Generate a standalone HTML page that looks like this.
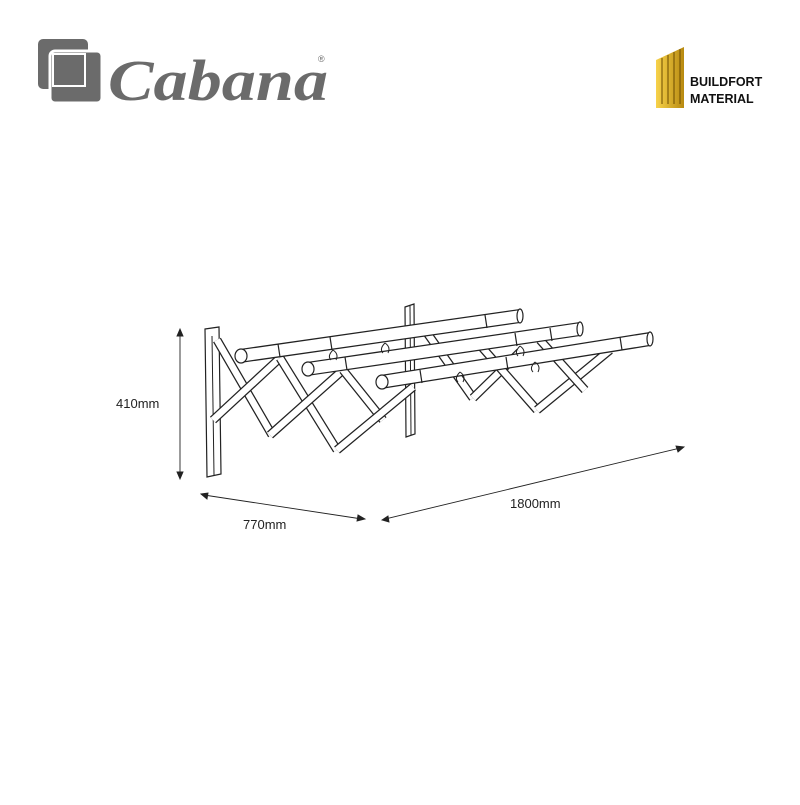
<!DOCTYPE html>
<html><head><style>
html,body{margin:0;padding:0;background:#fff;}
body{width:800px;height:800px;overflow:hidden;}
</style></head><body>
<svg width="800" height="800" viewBox="0 0 800 800" xmlns="http://www.w3.org/2000/svg">
<defs>
<linearGradient id="g" x1="0" y1="0" x2="1" y2="0">
<stop offset="0" stop-color="#f7d24a"/><stop offset="1" stop-color="#b88a10"/>
</linearGradient>
</defs>
<!-- Cabana logo -->
<rect x="38" y="39" width="50" height="50" rx="5" fill="#6b6b6b"/>
<rect x="50" y="51" width="52" height="52" rx="5" fill="#6b6b6b" stroke="#fff" stroke-width="3"/>
<rect x="53" y="54" width="32" height="32" fill="#6b6b6b" stroke="#fff" stroke-width="2"/>
<text x="108" y="100" font-family="Liberation Serif, serif" font-style="italic" font-weight="bold" font-size="58" fill="#6b6b6b" textLength="220" lengthAdjust="spacingAndGlyphs">Cabana</text>
<text x="318" y="62" font-family="Liberation Sans, sans-serif" font-size="9" fill="#6b6b6b">®</text>
<!-- Buildfort -->
<g>
<polygon points="656,60 684,47 684,108 656,108" fill="url(#g)"/>
<g stroke="#6a4a00" stroke-width="1">
<line x1="662" y1="58" x2="662" y2="104"/><line x1="668" y1="55" x2="668" y2="104"/>
<line x1="674" y1="52" x2="674" y2="104"/><line x1="680" y1="49" x2="680" y2="104"/>
</g>
</g>
<text x="690" y="86" font-family="Liberation Sans, sans-serif" font-weight="bold" font-size="12.5" fill="#111">BUILDFORT</text>
<text x="690" y="103" font-family="Liberation Sans, sans-serif" font-weight="bold" font-size="12.5" fill="#111">MATERIAL</text>

<!-- rack -->
<g stroke-linecap="butt" fill="none">
<polygon points="405,307 414,304 415,434 406,437" fill="#fff" stroke="#222" stroke-width="1.2"/>
<line x1="410" y1="306" x2="411" y2="435" stroke="#222" stroke-width="1"/>
<g>
<line x1="425" y1="330" x2="473" y2="398" stroke="#222" stroke-width="9"/><line x1="425" y1="330" x2="473" y2="398" stroke="#fff" stroke-width="6.5"/>
<line x1="473" y1="398" x2="520" y2="352" stroke="#222" stroke-width="9"/><line x1="473" y1="398" x2="520" y2="352" stroke="#fff" stroke-width="6.5"/>
<line x1="480" y1="345" x2="537" y2="410" stroke="#222" stroke-width="9"/><line x1="480" y1="345" x2="537" y2="410" stroke="#fff" stroke-width="6.5"/>
<line x1="537" y1="410" x2="610" y2="350" stroke="#222" stroke-width="9"/><line x1="537" y1="410" x2="610" y2="350" stroke="#fff" stroke-width="6.5"/>
<line x1="540" y1="340" x2="585" y2="390" stroke="#222" stroke-width="9"/><line x1="540" y1="340" x2="585" y2="390" stroke="#fff" stroke-width="6.5"/>
</g>
<polygon points="205,329 219,327 221,474 207,477" fill="#fff" stroke="#222" stroke-width="1.2"/>
<line x1="212" y1="336" x2="214" y2="475" stroke="#222" stroke-width="1"/>
<line x1="217" y1="340" x2="272" y2="435" stroke="#222" stroke-width="9"/><line x1="217" y1="340" x2="272" y2="435" stroke="#fff" stroke-width="6.5"/>
<line x1="213" y1="420" x2="280" y2="358" stroke="#222" stroke-width="9"/><line x1="213" y1="420" x2="280" y2="358" stroke="#fff" stroke-width="6.5"/>
<line x1="280" y1="358" x2="337" y2="450" stroke="#222" stroke-width="9"/><line x1="280" y1="358" x2="337" y2="450" stroke="#fff" stroke-width="6.5"/>
<line x1="270" y1="435" x2="343" y2="370" stroke="#222" stroke-width="9"/><line x1="270" y1="435" x2="343" y2="370" stroke="#fff" stroke-width="6.5"/>
<line x1="343" y1="370" x2="383" y2="420" stroke="#222" stroke-width="9"/><line x1="343" y1="370" x2="383" y2="420" stroke="#fff" stroke-width="6.5"/>
<line x1="337" y1="450" x2="413" y2="387" stroke="#222" stroke-width="9"/><line x1="337" y1="450" x2="413" y2="387" stroke="#fff" stroke-width="6.5"/>
<line x1="240" y1="356" x2="520" y2="316" stroke="#222" stroke-width="14"/><line x1="240" y1="356" x2="520" y2="316" stroke="#fff" stroke-width="11.5"/>
<ellipse cx="241" cy="356" rx="6" ry="7" fill="#fff" stroke="#222" stroke-width="1.2"/>
<ellipse cx="520" cy="316" rx="3" ry="7" fill="#fff" stroke="#222" stroke-width="1.2"/>
<line x1="307" y1="369" x2="580" y2="329" stroke="#222" stroke-width="14"/><line x1="307" y1="369" x2="580" y2="329" stroke="#fff" stroke-width="11.5"/>
<ellipse cx="308" cy="369" rx="6" ry="7" fill="#fff" stroke="#222" stroke-width="1.2"/>
<ellipse cx="580" cy="329" rx="3" ry="7" fill="#fff" stroke="#222" stroke-width="1.2"/>
<line x1="381" y1="382" x2="650" y2="339" stroke="#222" stroke-width="14"/><line x1="381" y1="382" x2="650" y2="339" stroke="#fff" stroke-width="11.5"/>
<ellipse cx="382" cy="382" rx="6" ry="7" fill="#fff" stroke="#222" stroke-width="1.2"/>
<ellipse cx="650" cy="339" rx="3" ry="7" fill="#fff" stroke="#222" stroke-width="1.2"/>
<g stroke="#222" stroke-width="1.2">
<line x1="278" y1="344" x2="280" y2="357"/><line x1="330" y1="337" x2="332" y2="350"/><line x1="485" y1="315" x2="487" y2="328"/>
<line x1="345" y1="357" x2="347" y2="370"/><line x1="515" y1="333" x2="517" y2="346"/><line x1="550" y1="328" x2="552" y2="341"/>
<line x1="420" y1="370" x2="422" y2="383"/><line x1="506" y1="357" x2="508" y2="370"/><line x1="620" y1="337" x2="622" y2="350"/>
</g>
<g stroke="#222" stroke-width="1">
<path d="M333,350 q-6,6 -2,10 M333,350 q6,4 3,10"/>
<path d="M385,343 q-6,6 -2,10 M385,343 q6,4 3,10"/>
<path d="M520,346 q-6,6 -2,10 M520,346 q6,4 3,10"/>
<path d="M535,362 q-6,6 -2,10 M535,362 q6,4 3,10"/>
<path d="M460,372 q-6,6 -2,10 M460,372 q6,4 3,10"/>
</g>
</g>

<g stroke="#222" stroke-width="0.9" fill="#222">
<line x1="180" y1="332" x2="180" y2="476"/>
<polygon points="180,329 177,336 183,336"/><polygon points="180,479 177,472 183,472"/>
<line x1="204" y1="495" x2="362" y2="519"/>
<polygon points="201,494 208,493 207,499"/><polygon points="365,519 358,515 357,521"/>
<line x1="385" y1="519" x2="680" y2="448"/>
<polygon points="382,520 388,516 389,522"/><polygon points="684,447 676,446 678,452"/>
</g>
<g font-family="Liberation Sans, sans-serif" font-size="13" fill="#222">
<text x="116" y="408">410mm</text>
<text x="243" y="529">770mm</text>
<text x="510" y="508">1800mm</text>
</g>
</svg>
</body></html>
